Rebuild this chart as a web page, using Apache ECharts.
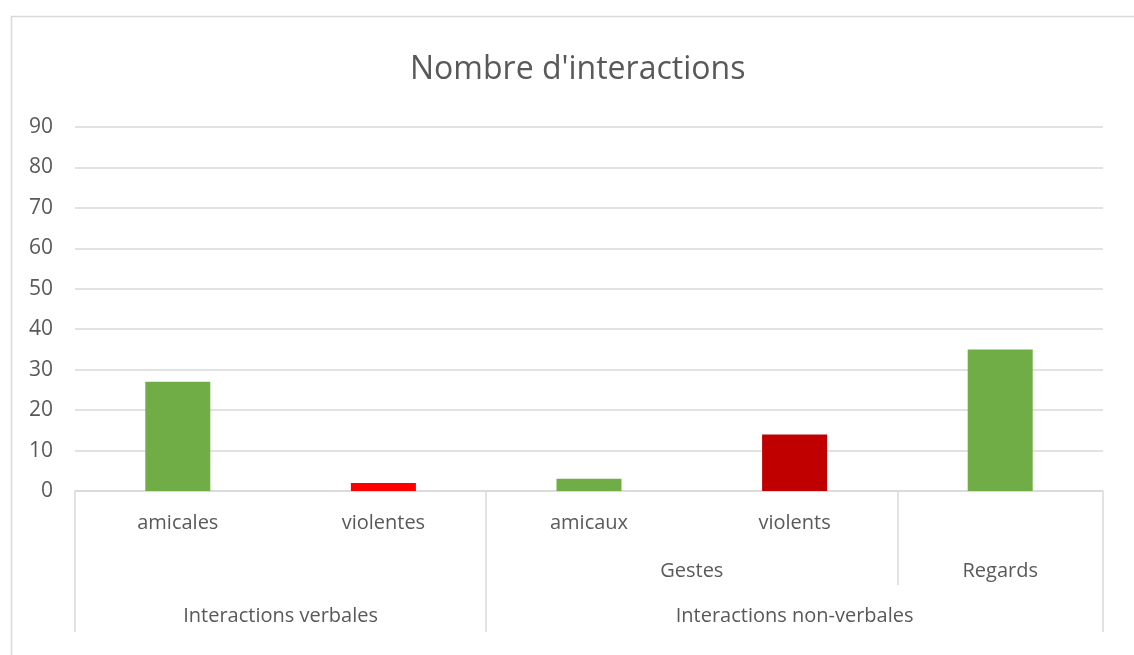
<!DOCTYPE html>
<html>
<head>
<meta charset="utf-8">
<script src="https://cdn.jsdelivr.net/npm/echarts@6/dist/echarts.min.js"></script>
<style>html,body{margin:0;padding:0;background:#fff;}#c{width:1134px;height:655px;}</style>
</head>
<body>
<div id="c"></div>
<script>
const title = "Nombre d'interactions";
const categories = ['amicales', 'violentes', 'amicaux', 'violents', ''];
const values = [27, 2, 3, 14, 35];
const barColors = ['#70AD47', '#FF0000', '#70AD47', '#C00000', '#70AD47'];
const yTicks = [0, 10, 20, 30, 40, 50, 60, 70, 80, 90];
// second level: Gestes spans categories 2-3, Regards category 4
const level2Labels = ['Gestes', 'Regards'];
const level2Centers = [3, 4.5];
const level2Bounds = [4];
// third level
const level3Labels = ['Interactions verbales', 'Interactions non-verbales'];
const level3Centers = [1, 3.5];
const level3Bounds = [0, 2, 5];

const FONT = 'Open Sans';
const TXT = '#595959';
const LINE = '#D9D9D9';
const FS = 20;

const chart = echarts.init(document.getElementById('c'), null, {renderer: 'canvas'});
chart.setOption({
  animation: false,
  backgroundColor: '#fff',
  textStyle: {fontFamily: FONT},
  title: {
    text: title, left: 405, top: 49,
    textStyle: {fontFamily: FONT, fontSize: 32, fontWeight: 'normal', color: TXT}
  },
  graphic: [{
    type: 'rect', left: 9, top: 14, silent: true,
    shape: {width: 1300, height: 800},
    style: {fill: 'none', stroke: LINE, lineWidth: 1.5}
  }],
  grid: {left: 75, right: 31, top: 127, bottom: 164, containLabel: false},
  xAxis: [{
    type: 'category', data: categories,
    axisLine: {lineStyle: {color: LINE, width: 1.5}},
    axisTick: {show: false},
    axisLabel: {color: TXT, fontSize: FS, fontFamily: FONT, margin: 22, interval: 0}
  }, {
    type: 'value', min: 0, max: 5, position: 'bottom',
    axisLine: {show: false}, splitLine: {show: false},
    axisTick: {show: true, customValues: level3Bounds, length: 141, lineStyle: {color: LINE, width: 1.5}},
    axisLabel: {
      customValues: level3Centers, color: TXT, fontSize: FS, fontFamily: FONT, margin: 115,
      formatter: v => level3Labels[level3Centers.indexOf(v)]
    }
  }, {
    type: 'value', min: 0, max: 5, position: 'bottom',
    axisLine: {show: false}, splitLine: {show: false},
    axisTick: {show: true, customValues: level2Bounds, length: 94, lineStyle: {color: LINE, width: 1.5}},
    axisLabel: {
      customValues: level2Centers, color: TXT, fontSize: FS, fontFamily: FONT, margin: 70,
      formatter: v => level2Labels[level2Centers.indexOf(v)]
    }
  }],
  yAxis: {
    type: 'value', min: yTicks[0], max: yTicks[yTicks.length - 1], interval: 10,
    axisLine: {show: false}, axisTick: {show: false},
    splitLine: {lineStyle: {color: LINE, width: 1.5}},
    axisLabel: {color: TXT, fontSize: 21, fontFamily: FONT, margin: 22}
  },
  series: [{
    type: 'bar', xAxisIndex: 0, barWidth: 65,
    data: values.map((v, i) => ({value: v, itemStyle: {color: barColors[i]}}))
  }]
});
</script>
</body>
</html>
